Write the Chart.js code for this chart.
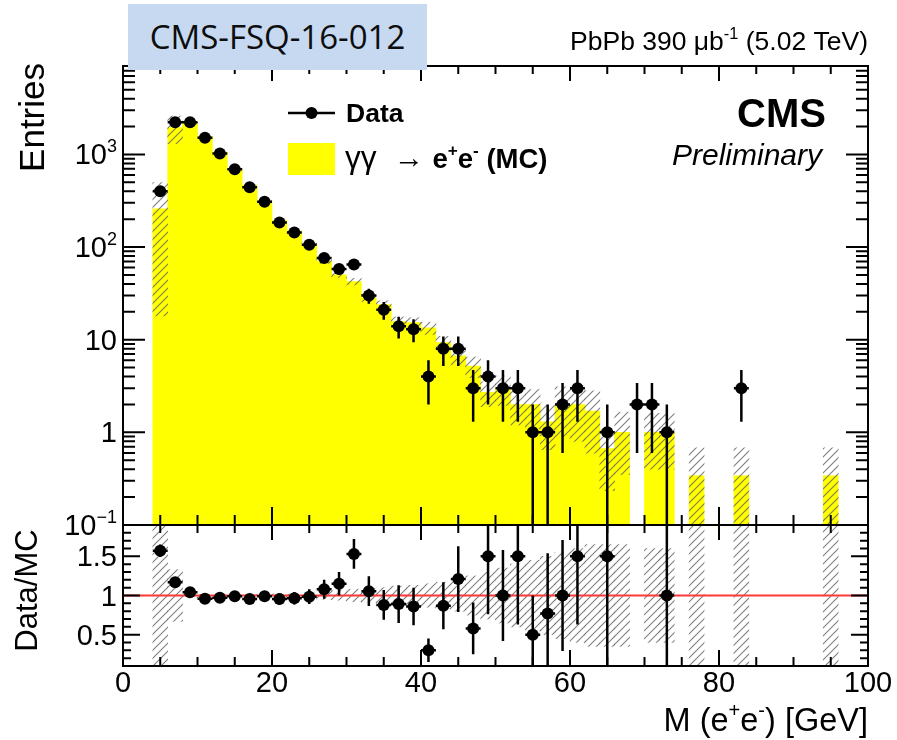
<!DOCTYPE html>
<html>
<head>
<meta charset="utf-8">
<title>Dielectron mass, PbPb</title>
<script src="https://cdn.jsdelivr.net/npm/chart.js@4.4.1/dist/chart.umd.min.js"></script>
<style>
  html, body { margin: 0; padding: 0; background: #fff; }
  #page { position: relative; width: 897px; height: 740px; overflow: hidden; background: #fff; }
  canvas { position: absolute; left: 0; }
  #mainPad { top: 0; }
  #ratioPad { top: 515px; }
  #tag {
    position: absolute; left: 128px; top: 4px; width: 299px; height: 66px;
    background: #c6d9f1; color: #0d0d0d;
    font-family: "Open Sans", sans-serif; font-size: 33px;
    line-height: 66px; text-align: center;
  }
</style>
</head>
<body>
<div id="page">
  <canvas id="mainPad" width="897" height="540"></canvas>
  <canvas id="ratioPad" width="897" height="225"></canvas>
  <div id="tag">CMS-FSQ-16-012</div>
</div>
<script>
// M(e+e-) in 2 GeV bins from 4 to 96 GeV
const binCenters = [5, 7, 9, 11, 13, 15, 17, 19, 21, 23, 25, 27, 29, 31, 33, 35, 37, 39, 41, 43, 45, 47, 49,
  51, 53, 55, 57, 59, 61, 63, 65, 67, 69, 71, 73, 75, 77, 79, 81, 83, 85, 87, 89, 91, 93, 95];
const binWidth = 2;

const dataCounts = [400, 2230, 2230, 1510, 1020, 690, 443, 308, 184, 144, 106, 76, 58, 65, 30, 21, 14, 13, 4, 8, 8,
  3, 4, 3, 3, 1, 1, 2, 3, null, 1, null, 2, 2, 1, null, null, null, null, 3, null, null, null, null, null, null];
const dataErr = [20, 47, 47, 39, 32, 26, 21, 17.5, 13.6, 12, 10.3, 8.7, 7.6, 8.1, 5.5, 4.6, 3.7, 3.6, 2, 2.8, 2.8,
  1.7, 2, 1.7, 1.7, 1, 1, 1.4, 1.7, null, 1, null, 1.4, 1.4, 1, null, null, null, null, 1.7, null, null, null, null, null, null];

// gamma gamma -> e+e- simulation, with relative uncertainty per bin
const mcYield = [258, 1950, 2160, 1570, 1055, 694, 464, 311, 193, 149, 108, 70, 50, 42.5, 28.4, 23.9, 15.7, 15.3, 13.4,
  9.3, 6.7, 5.2, 2.7, 3.0, 2.0, 2.0, 1.3, 2.0, 2.0, 1.7, 0.67, 1.0, 0, 1.0, 1.0, 0, 0.34, 0, 0, 0.34, 0, 0, 0, 0, 0, 0.34];
const mcRelErr = [0.93, 0.33, 0.03, 0.012, 0.012, 0.012, 0.012, 0.015, 0.02, 0.02, 0.03, 0.05, 0.06, 0.08, 0.09, 0.1,
  0.12, 0.13, 0.15, 0.17, 0.2, 0.25, 0.3, 0.35, 0.4, 0.45, 0.5, 0.55, 0.6, 0.65, 0.65, 0.65, 0, 0.6, 0.6, 0, 1.0, 0, 0,
  1.0, 0, 0, 0, 0, 0, 1.0];

// Data/MC (bins off scale left out)
const ratioValues = [1.57, 1.17, 1.04, 0.96, 0.97, 0.99, 0.955, 0.99, 0.955, 0.965, 0.985, 1.08, 1.15, 1.53, 1.055,
  0.88, 0.89, 0.86, 0.30, 0.87, 1.21, 0.58, 1.5, 1.0, 1.5, 0.5, 0.77, 1.0, 1.5, null, 1.5, null, null, null, 1.0,
  null, null, null, null, null, null, null, null, null, null, null];
const ratioErr = [0.08, 0.025, 0.022, 0.025, 0.03, 0.037, 0.045, 0.056, 0.07, 0.08, 0.095, 0.12, 0.15, 0.19, 0.19,
  0.19, 0.24, 0.24, 0.15, 0.3, 0.42, 0.33, 0.74, 0.58, 0.87, 0.5, 0.77, 0.71, 0.87, null, 1.5, null, null, null, 1.0,
  null, null, null, null, null, null, null, null, null, null, null];

const massTicks = [0, 20, 40, 60, 80, 100];
const massTickLabels = ['0', '20', '40', '60', '80', '100'];
const entriesTicks = [0.1, 1, 10, 100, 1000];
const entriesTickLabels = ['10^-1', '1', '10', '10^2', '10^3'];
const ratioTicks = [0.5, 1, 1.5];
const ratioTickLabels = ['0.5', '1', '1.5'];

const SANS = '"Liberation Sans", Arial, Helvetica, sans-serif';

// ---- text helpers (superscripts, mixed weights) ----
function segFont(seg, size) {
  const s = (seg.sup ? size * 0.62 : size) * (seg.scale || 1);
  return (seg.italic ? 'italic ' : '') + (seg.bold ? 'bold ' : '') + s.toFixed(1) + 'px ' + SANS;
}
function richWidth(ctx, segs, size) {
  let w = 0;
  segs.forEach(seg => { ctx.font = segFont(seg, size); w += ctx.measureText(seg.t).width; });
  return w;
}
function drawRich(ctx, segs, x, y, size, align) {
  let cx = x;
  if (align === 'right') cx = x - richWidth(ctx, segs, size);
  if (align === 'center') cx = x - richWidth(ctx, segs, size) / 2;
  ctx.textAlign = 'left';
  ctx.textBaseline = 'alphabetic';
  segs.forEach(seg => {
    ctx.font = segFont(seg, size);
    ctx.fillText(seg.t, cx, seg.sup ? y - size * 0.42 : y);
    cx += ctx.measureText(seg.t).width;
  });
}
function powerLabel(str) {
  const parts = str.split('^');
  const segs = [{ t: parts[0] }];
  if (parts[1]) segs.push({ t: parts[1].replace('-', '\u2212'), sup: true });
  return segs;
}

function makeHatch(canvas) {
  const s = 8;
  const tile = document.createElement('canvas');
  tile.width = s; tile.height = s;
  const g = tile.getContext('2d');
  g.strokeStyle = 'rgba(95,95,95,0.8)';
  g.lineWidth = 1.1;
  g.beginPath();
  g.moveTo(-1, s + 1); g.lineTo(s + 1, -1);
  g.moveTo(-1, 1); g.lineTo(1, -1);
  g.moveTo(s - 1, s + 1); g.lineTo(s + 1, s - 1);
  g.stroke();
  return canvas.getContext('2d').createPattern(tile, 'repeat');
}

// vertical + horizontal error bars under the markers
const errorBars = {
  id: 'errorBars',
  beforeDatasetDraw(chart, args) {
    const ds = chart.data.datasets[args.index];
    if (!ds.yErr) return;
    const { ctx, chartArea: a, scales: { x, y } } = chart;
    ctx.save();
    ctx.beginPath();
    ctx.rect(a.left, a.top, a.right - a.left, a.bottom - a.top);
    ctx.clip();
    ctx.strokeStyle = '#000';
    ctx.lineWidth = 2.5;
    ctx.beginPath();
    ds.data.forEach((p, i) => {
      if (p.y === null) return;
      const px = x.getPixelForValue(p.x);
      const py = y.getPixelForValue(p.y);
      const lo = Math.max(p.y - ds.yErr[i], 0);
      ctx.moveTo(px, y.getPixelForValue(lo));
      ctx.lineTo(px, y.getPixelForValue(p.y + ds.yErr[i]));
      ctx.moveTo(x.getPixelForValue(p.x - binWidth / 2), py);
      ctx.lineTo(x.getPixelForValue(p.x + binWidth / 2), py);
    });
    ctx.stroke();
    ctx.restore();
  }
};

function massEdgeTicks(ctx, x, a, upLen, downLen) {
  // minor every 5 GeV, major every 20 GeV
  ctx.beginPath();
  for (let m = 0; m <= 100; m += 5) {
    const px = x.getPixelForValue(m);
    const major = m % 20 === 0;
    ctx.moveTo(px, a.bottom); ctx.lineTo(px, a.bottom - (major ? upLen[0] : upLen[1]));
    ctx.moveTo(px, a.top); ctx.lineTo(px, a.top + (major ? downLen[0] : downLen[1]));
  }
  ctx.stroke();
}

const mainDecor = {
  id: 'mainDecor',
  afterDraw(chart) {
    const { ctx, chartArea: a, scales: { x, y } } = chart;
    ctx.save();
    ctx.strokeStyle = '#000';
    ctx.fillStyle = '#000';
    ctx.lineWidth = 2;
    ctx.strokeRect(a.left, a.top, a.right - a.left, a.bottom - a.top);
    massEdgeTicks(ctx, x, a, [18, 10], [15, 8]);

    ctx.beginPath();
    entriesTicks.forEach(dec => {
      for (let k = 1; k <= 9; k++) {
        const v = dec * k;
        if (v > y.max + 1e-6) break;
        const py = y.getPixelForValue(v);
        const len = k === 1 ? 22 : 12;
        ctx.moveTo(a.left, py); ctx.lineTo(a.left + len, py);
        ctx.moveTo(a.right, py); ctx.lineTo(a.right - len, py);
      }
    });
    ctx.stroke();

    entriesTicks.forEach((v, i) => {
      drawRich(ctx, powerLabel(entriesTickLabels[i]), a.left - 6, y.getPixelForValue(v) + 10, 29, 'right');
    });

    // axis title, aligned to the top of the axis
    ctx.save();
    ctx.translate(44, a.top - 3);
    ctx.rotate(-Math.PI / 2);
    ctx.font = '35px ' + SANS;
    ctx.textAlign = 'right';
    ctx.textBaseline = 'alphabetic';
    ctx.fillText('Entries', 0, 0);
    ctx.restore();

    // luminosity label
    drawRich(ctx, [{ t: 'PbPb 390 \u03bcb' }, { t: '-1', sup: true }, { t: ' (5.02 TeV)' }], a.right, 50, 26.5, 'right');

    // CMS label
    ctx.textAlign = 'right';
    ctx.textBaseline = 'alphabetic';
    ctx.font = 'bold 40px ' + SANS;
    ctx.fillText('CMS', 826, 127);
    ctx.font = 'italic 30px ' + SANS;
    ctx.fillText('Preliminary', 822, 165);

    // legend
    ctx.lineWidth = 2.5;
    ctx.beginPath();
    ctx.moveTo(288, 113); ctx.lineTo(335, 113);
    ctx.stroke();
    ctx.beginPath();
    ctx.arc(311.5, 113, 6, 0, Math.PI * 2);
    ctx.fill();
    drawRich(ctx, [{ t: 'Data', bold: true }], 346, 122, 26.5, 'left');
    ctx.fillStyle = '#ffff00';
    ctx.fillRect(288, 143, 47, 32);
    ctx.fillStyle = '#000';
    drawRich(ctx, [
      { t: '\u03b3\u03b3 ', scale: 1.15 },
      { t: ' \u2192 ', scale: 1.1 },
      { t: 'e', bold: true }, { t: '+', bold: true, sup: true },
      { t: 'e', bold: true }, { t: '-', bold: true, sup: true },
      { t: ' (MC)', bold: true }
    ], 345, 168, 27.5, 'left');
    ctx.restore();
  }
};

const ratioDecor = {
  id: 'ratioDecor',
  afterDraw(chart) {
    const { ctx, chartArea: a, scales: { x, y } } = chart;
    ctx.save();
    ctx.strokeStyle = '#000';
    ctx.fillStyle = '#000';
    ctx.lineWidth = 2;
    ctx.strokeRect(a.left, a.top, a.right - a.left, a.bottom - a.top);
    massEdgeTicks(ctx, x, a, [16, 9], [15, 8]);

    ctx.beginPath();
    for (let k = 2; k <= 18; k++) {
      const py = y.getPixelForValue(k / 10);
      const len = k % 5 === 0 ? 17 : 8;
      ctx.moveTo(a.left, py); ctx.lineTo(a.left + len, py);
      ctx.moveTo(a.right, py); ctx.lineTo(a.right - len, py);
    }
    ctx.stroke();

    ratioTicks.forEach((v, i) => {
      drawRich(ctx, [{ t: ratioTickLabels[i] }], a.left - 6, y.getPixelForValue(v) + 10, 29, 'right');
    });
    massTicks.forEach((v, i) => {
      drawRich(ctx, [{ t: massTickLabels[i] }], x.getPixelForValue(v), a.bottom + 26, 29, 'center');
    });

    drawRich(ctx, [{ t: 'M (e' }, { t: '+', sup: true }, { t: 'e' }, { t: '-', sup: true }, { t: ') [GeV]' }],
      a.right, a.bottom + 65, 32.5, 'right');

    ctx.save();
    ctx.translate(37, (a.top + a.bottom) / 2 - 5);
    ctx.rotate(-Math.PI / 2);
    ctx.font = '31px ' + SANS;
    ctx.textAlign = 'center';
    ctx.textBaseline = 'alphabetic';
    ctx.fillText('Data/MC', 0, 0);
    ctx.restore();
    ctx.restore();
  }
};

const mainCanvas = document.getElementById('mainPad');
const ratioCanvas = document.getElementById('ratioPad');

const histBar = { grouped: false, barPercentage: 1, categoryPercentage: 1, borderWidth: 0 };
// log axis cannot hold a zero edge; anything below the axis minimum is clipped anyway
const logFloor = 0.01;

new Chart(mainCanvas, {
  type: 'bar',
  data: {
    datasets: [
      {
        type: 'scatter', label: 'Data', order: 0,
        data: binCenters.map((c, i) => ({ x: c, y: dataCounts[i] })),
        yErr: dataErr,
        pointRadius: 6, pointBackgroundColor: '#000', pointBorderWidth: 0
      },
      Object.assign({
        label: 'MC uncertainty', order: 1, backgroundColor: makeHatch(mainCanvas),
        data: binCenters.map((c, i) => ({
          x: c,
          y: mcYield[i] > 0
            ? [Math.max(mcYield[i] * (1 - mcRelErr[i]), logFloor), mcYield[i] * (1 + mcRelErr[i])]
            : null
        }))
      }, histBar),
      Object.assign({
        label: '\u03b3\u03b3 \u2192 e+e- (MC)', order: 2, backgroundColor: '#ffff00',
        data: binCenters.map((c, i) => ({ x: c, y: mcYield[i] > 0 ? mcYield[i] : null }))
      }, histBar)
    ]
  },
  options: {
    responsive: false, animation: false, devicePixelRatio: 1, events: [],
    layout: { padding: { left: 123, right: 29, top: 66, bottom: 15 } },
    scales: {
      x: { type: 'linear', min: 0, max: 100, offset: false, display: false },
      y: { type: 'logarithmic', min: 0.1, max: 9000, display: false }
    },
    plugins: { legend: { display: false }, tooltip: { enabled: false } }
  },
  plugins: [errorBars, mainDecor]
});

new Chart(ratioCanvas, {
  type: 'bar',
  data: {
    datasets: [
      {
        type: 'scatter', label: 'Data/MC', order: 0,
        data: binCenters.map((c, i) => ({ x: c, y: ratioValues[i] })),
        yErr: ratioErr,
        pointRadius: 6, pointBackgroundColor: '#000', pointBorderWidth: 0
      },
      {
        type: 'line', label: 'unity', order: 1,
        data: [{ x: 0, y: 1 }, { x: 100, y: 1 }],
        borderColor: '#ff3838', borderWidth: 2, pointRadius: 0
      },
      Object.assign({
        label: 'MC uncertainty', order: 2, backgroundColor: makeHatch(ratioCanvas),
        data: binCenters.map((c, i) => ({
          x: c,
          y: mcYield[i] > 0 ? [1 - mcRelErr[i], 1 + mcRelErr[i]] : null
        }))
      }, histBar)
    ]
  },
  options: {
    responsive: false, animation: false, devicePixelRatio: 1, events: [],
    layout: { padding: { left: 123, right: 29, top: 10, bottom: 74 } },
    scales: {
      x: { type: 'linear', min: 0, max: 100, offset: false, display: false },
      y: { type: 'linear', min: 0.1, max: 1.9, display: false }
    },
    plugins: { legend: { display: false }, tooltip: { enabled: false } }
  },
  plugins: [errorBars, ratioDecor]
});
</script>
</body>
</html>
